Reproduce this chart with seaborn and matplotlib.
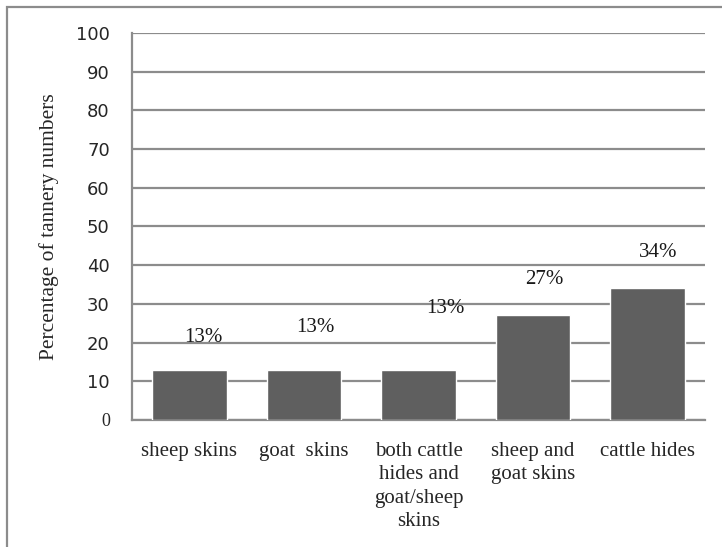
import pandas as pd
import matplotlib.pyplot as plt
import seaborn as sns
from matplotlib.patches import Rectangle

# data
categories = ['sheep skins', 'goat  skins', 'both cattle\nhides and\ngoat/sheep\nskins',
              'sheep and\ngoat skins', 'cattle hides']
values = [13, 13, 13, 27, 34]
labels = ['13%', '13%', '13%', '27%', '34%']
label_y = [21.4, 24.0, 28.7, 36.2, 43.4]   # where the % labels sit
yticks = [0, 10, 20, 30, 40, 50, 60, 70, 80, 90, 100]

df = pd.DataFrame({'type': categories, 'pct': values})

sns.set_style('white')
fig = plt.figure(figsize=(7.22, 5.47), dpi=100)
ax = fig.add_axes([0.1828, 0.2322, 0.7937, 0.7075])

sns.barplot(data=df, x='type', y='pct', color='#5f5f5f', saturation=1,
            width=0.65, ax=ax, zorder=3)

ax.set_ylim(0, 100)
ax.set_xlim(-0.5, 4.5)
ax.set_yticks(yticks)
ax.set_yticklabels([str(t) for t in yticks])
for t in ax.get_yticklabels():
    t.set_fontfamily('DejaVu Sans')
    t.set_fontsize(13)
ax.get_yticklabels()[0].set_fontfamily('Liberation Serif')
ax.tick_params(axis='y', length=0, pad=16)
ax.tick_params(axis='x', length=0, pad=16)
for t in ax.get_xticklabels():
    t.set_fontfamily('Liberation Serif')
    t.set_fontsize(15)
    t.set_verticalalignment('top')
    t.set_linespacing(1.3)

ax.yaxis.grid(True, color='#8c8c8c', linewidth=1.6, zorder=0)
ax.set_axisbelow(True)
for s in ['top', 'right']:
    ax.spines[s].set_visible(False)
for s in ['left', 'bottom']:
    ax.spines[s].set_color('#8c8c8c')
    ax.spines[s].set_linewidth(1.6)

ax.set_xlabel('')
ax.set_ylabel('Percentage of tannery numbers', fontfamily='Liberation Serif',
              fontsize=15.5, labelpad=12)

offsets = [0.12, 0.1, 0.23, 0.1, 0.09]
for i, (lab, ly) in enumerate(zip(labels, label_y)):
    ax.text(i + offsets[i], ly, lab, ha='center', va='center',
            fontfamily='Liberation Serif', fontsize=15,
            color='#1a1a1a')

# outer frame of the original figure
fig.patches.append(Rectangle((7 / 722, -0.1), 1.2, 1 - 7 / 547 + 0.1,
                             transform=fig.transFigure, fill=False,
                             edgecolor='#8c8c8c', linewidth=1.6))

fig.savefig('out.png', dpi=100)
